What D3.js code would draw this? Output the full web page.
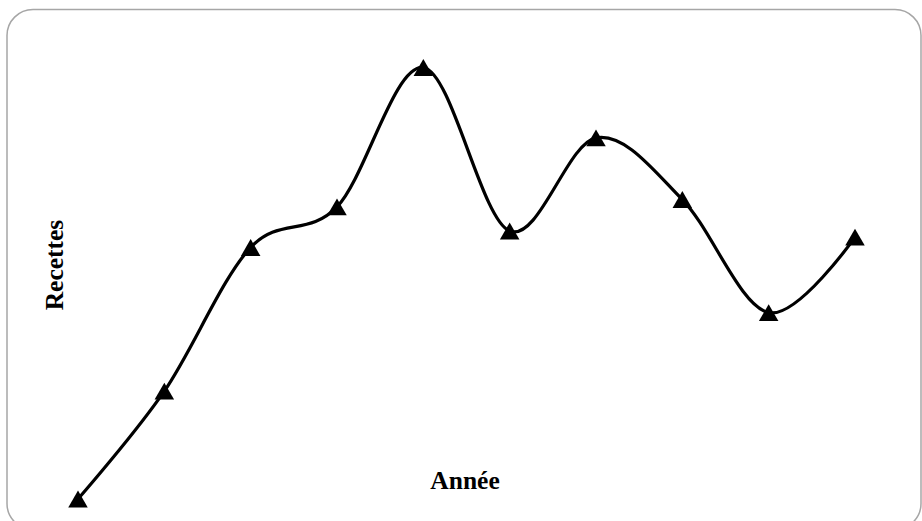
<!DOCTYPE html>
<html>
<head>
<meta charset="utf-8">
<script src="https://cdn.jsdelivr.net/npm/d3@7"></script>
<style>
  html, body { margin: 0; padding: 0; background: #fff; }
  svg { display: block; }
</style>
</head>
<body>
<svg id="chart" width="922" height="521"></svg>
<script>
// Data (0–100 relative units)
const categories = ["1", "2", "3", "4", "5", "6", "7", "8", "9", "10"];
const recettes = [0, 25.0, 58.3, 67.7, 100, 62.1, 83.7, 69.4, 43.2, 60.7];
const xTitle = "Année";
const yTitle = "Recettes";

const svg = d3.select("#chart");

// frame
svg.append("rect")
  .attr("x", 7).attr("y", 9.5)
  .attr("width", 914).attr("height", 520)
  .attr("rx", 26).attr("ry", 26)
  .attr("fill", "#fff")
  .attr("stroke", "#a6a6a6")
  .attr("stroke-width", 1.5);

const x = d3.scalePoint().domain(categories).range([78, 855]);
const y = d3.scaleLinear().domain([0, 100]).range([499, 67.5]);

const data = categories.map((c, i) => ({ c, v: recettes[i] }));

const line = d3.line()
  .x(d => x(d.c))
  .y(d => y(d.v))
  .curve(d3.curveCardinal.tension(0));

svg.append("path")
  .datum(data)
  .attr("d", line)
  .attr("fill", "none")
  .attr("stroke", "#000")
  .attr("stroke-width", 3.2)
  .attr("stroke-linejoin", "round");

const triSize = 165;
const side = Math.sqrt(triSize * 4 / Math.sqrt(3));
const hTri = side * Math.sqrt(3) / 2;
svg.append("g").selectAll("path")
  .data(data)
  .join("path")
  .attr("d", d3.symbol().type(d3.symbolTriangle).size(triSize))
  .attr("transform", d => `translate(${x(d.c)},${y(d.v) + hTri / 6})`)
  .attr("fill", "#000");

// axis titles
svg.append("text")
  .attr("x", 465).attr("y", 489)
  .attr("text-anchor", "middle")
  .attr("font-family", "'Liberation Serif', 'Times New Roman', serif")
  .attr("font-weight", "bold")
  .attr("font-size", 25.5)
  .attr("fill", "#000")
  .text(xTitle);

svg.append("text")
  .attr("transform", "translate(63,265) rotate(-90)")
  .attr("text-anchor", "middle")
  .attr("font-family", "'Liberation Serif', 'Times New Roman', serif")
  .attr("font-weight", "bold")
  .attr("font-size", 25.5)
  .attr("fill", "#000")
  .text(yTitle);
</script>
</body>
</html>
